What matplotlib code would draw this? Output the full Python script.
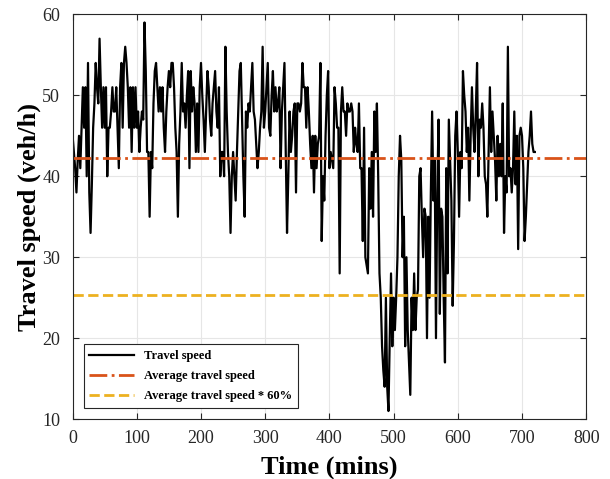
import numpy as np
import matplotlib
matplotlib.use('Agg')
import matplotlib.pyplot as plt

# travel speed every 2 minutes
speed_0_92 = [45, 43, 41, 38, 42, 45, 41, 46, 51, 46, 51, 40, 54, 38, 33, 39,
              46, 49, 54, 51, 49, 57, 51, 46, 51, 46, 51, 40, 46, 46, 48, 51,
              48, 48, 51, 46, 41, 51, 54, 46, 54, 56, 54, 51, 46, 51, 43]
speed_94_180 = [51, 46, 51, 46, 48, 43, 46, 48, 47, 59, 53, 43, 43, 35, 43, 41,
                49, 53, 54, 51, 48, 51, 48, 51, 46, 43, 48, 51, 53, 51, 54, 54,
                51, 46, 43, 35, 44, 48, 54, 48, 49, 46, 50, 53]
speed_182_272 = [41, 53, 48, 51, 49, 43, 49, 43, 51, 54, 50, 47, 43, 48, 53, 51,
                 47, 45, 49, 51, 53, 48, 46, 51, 40, 43, 43, 40, 56, 48, 43, 40,
                 33, 40, 43, 40, 37, 43, 48, 53, 54, 47, 40, 35, 48, 46]
speed_274_360 = [49, 48, 51, 54, 48, 47, 44, 41, 43, 46, 48, 56, 46, 48, 51, 54,
                 46, 45, 50, 53, 48, 51, 48, 49, 51, 41, 48, 51, 54, 43, 33, 40,
                 48, 43, 45, 48, 49, 38, 49, 49, 48, 49, 54, 51]
speed_362_466 = [51, 46, 51, 48, 44, 41, 45, 38, 45, 41, 44, 45, 54, 32, 40, 37,
                 45, 50, 53, 41, 43, 42, 41, 51, 49, 46, 46, 28, 48, 51, 48, 48,
                 45, 49, 48, 48, 49, 48, 43, 46, 44, 43, 49, 41, 41, 32, 46, 30,
                 29, 28, 41, 36, 43]
speed_468_548 = [35, 48, 43, 49, 40, 28, 25, 19, 16, 14, 25, 14, 11, 20, 28, 19,
                 25, 21, 25, 30, 40, 45, 42, 30, 35, 19, 30, 21, 17, 13, 25, 21,
                 28, 21, 25, 26, 40, 41, 35, 30, 36]
speed_550_630 = [35, 20, 35, 25, 38, 48, 37, 42, 20, 38, 47, 23, 36, 35, 25, 17,
                 41, 28, 47, 42, 37, 24, 32, 45, 48, 43, 35, 43, 41, 53, 50, 48,
                 43, 46, 37, 45, 51, 46, 43, 48, 54]
speed_632_720 = [40, 47, 46, 49, 46, 40, 39, 35, 43, 51, 43, 48, 45, 42, 37, 45,
                 40, 44, 40, 49, 33, 40, 38, 56, 40, 41, 38, 41, 48, 39, 45, 31,
                 45, 46, 45, 41, 32, 35, 39, 43, 45, 48, 44, 43, 43]

speed = (speed_0_92 + speed_94_180 + speed_182_272 + speed_274_360
         + speed_362_466 + speed_468_548 + speed_550_630 + speed_632_720)
time = np.arange(len(speed)) * 2

avg_speed = 42.3
avg_speed_60 = avg_speed * 0.6

plt.rcParams['font.family'] = ['Liberation Serif', 'DejaVu Serif']

fig = plt.figure(figsize=(6.1, 4.79), dpi=100)
ax = fig.add_axes([0.119, 0.125, 0.842, 0.845])

ax.plot(time, speed, color='black', linewidth=1.6, label='Travel speed')
ax.axhline(avg_speed, color='#D95319', linestyle='-.', linewidth=2,
           label='Average travel speed')
ax.axhline(avg_speed_60, color='#EDB120', linestyle='--', linewidth=2,
           label='Average travel speed * 60%')

ax.set_xlim(0, 800)
ax.set_ylim(10, 60)
ax.set_xticks(np.arange(0, 801, 100))
ax.set_yticks(np.arange(10, 61, 10))
ax.tick_params(direction='in', top=True, right=True, labelsize=13,
               length=4, width=0.8, colors='#262626')
ax.tick_params(axis='x', pad=8)
ax.tick_params(axis='y', pad=9)
ax.grid(True, color='#e6e6e6', linewidth=0.8)
ax.set_axisbelow(True)
for s in ax.spines.values():
    s.set_color('#262626')
    s.set_linewidth(0.8)

ax.set_xlabel('Time (mins)', fontsize=19, fontweight='bold', labelpad=6)
ax.set_ylabel('Travel speed (veh/h)', fontsize=19, fontweight='bold', labelpad=1)

leg = ax.legend(loc='lower left', prop={'size': 9, 'weight': 'bold'},
                fancybox=False, framealpha=1, edgecolor='#262626',
                handlelength=3.6, handletextpad=0.8, borderaxespad=0.9,
                labelspacing=0.65, borderpad=0.45)
leg.get_frame().set_linewidth(0.8)

fig.savefig('out.png', dpi=100)
